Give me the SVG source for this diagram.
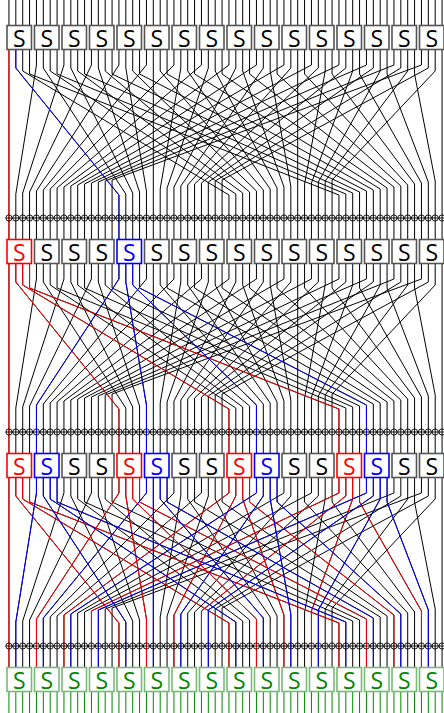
<svg xmlns="http://www.w3.org/2000/svg" xmlns:xlink="http://www.w3.org/1999/xlink" width="444" height="713" viewBox="0 0 444 713">
<style>
.v{fill:none;stroke-width:1;vector-effect:non-scaling-stroke}
.nd rect{fill:#fff;stroke-width:1.6}
.nd text{font-family:"Open Sans","DejaVu Sans",sans-serif;font-size:23px;text-anchor:middle}
.k rect{stroke:#555}.k text{fill:#000}
.r rect{stroke:#f00}.r text{fill:#f00}
.b rect{stroke:#00f}.b text{fill:#00f}
.g rect{stroke:#7b7}.g text{fill:#080}
.xo{fill:none;stroke:#000;stroke-width:0.9}
</style>
<defs>
<g id="stage">
<path class="v" d="M0 49.5V65L0 195V239.5"/><path class="v" d="M1 49.5V68L16 195V239.5"/><path class="v" d="M2 49.5V71L32 195V239.5"/><path class="v" d="M3 49.5V74L48 195V239.5"/>
<path class="v" d="M4 49.5V65L1 194V239.5"/><path class="v" d="M5 49.5V68L17 194V239.5"/><path class="v" d="M6 49.5V71L33 194V239.5"/><path class="v" d="M7 49.5V74L49 194V239.5"/>
<path class="v" d="M8 49.5V65L2 193V239.5"/><path class="v" d="M9 49.5V68L18 193V239.5"/><path class="v" d="M10 49.5V71L34 193V239.5"/><path class="v" d="M11 49.5V74L50 193V239.5"/>
<path class="v" d="M12 49.5V65L3 192V239.5"/><path class="v" d="M13 49.5V68L19 192V239.5"/><path class="v" d="M14 49.5V71L35 192V239.5"/><path class="v" d="M15 49.5V74L51 192V239.5"/>
<path class="v" d="M16 49.5V65L4 191V239.5"/><path class="v" d="M17 49.5V68L20 191V239.5"/><path class="v" d="M18 49.5V71L36 191V239.5"/><path class="v" d="M19 49.5V74L52 191V239.5"/>
<path class="v" d="M20 49.5V65L5 190V239.5"/><path class="v" d="M21 49.5V68L21 190V239.5"/><path class="v" d="M22 49.5V71L37 190V239.5"/><path class="v" d="M23 49.5V74L53 190V239.5"/>
<path class="v" d="M24 49.5V65L6 189V239.5"/><path class="v" d="M25 49.5V68L22 189V239.5"/><path class="v" d="M26 49.5V71L38 189V239.5"/><path class="v" d="M27 49.5V74L54 189V239.5"/>
<path class="v" d="M28 49.5V65L7 188V239.5"/><path class="v" d="M29 49.5V68L23 188V239.5"/><path class="v" d="M30 49.5V71L39 188V239.5"/><path class="v" d="M31 49.5V74L55 188V239.5"/>
<path class="v" d="M32 49.5V65L8 187V239.5"/><path class="v" d="M33 49.5V68L24 187V239.5"/><path class="v" d="M34 49.5V71L40 187V239.5"/><path class="v" d="M35 49.5V74L56 187V239.5"/>
<path class="v" d="M36 49.5V65L9 186V239.5"/><path class="v" d="M37 49.5V68L25 186V239.5"/><path class="v" d="M38 49.5V71L41 186V239.5"/><path class="v" d="M39 49.5V74L57 186V239.5"/>
<path class="v" d="M40 49.5V65L10 185V239.5"/><path class="v" d="M41 49.5V68L26 185V239.5"/><path class="v" d="M42 49.5V71L42 185V239.5"/><path class="v" d="M43 49.5V74L58 185V239.5"/>
<path class="v" d="M44 49.5V65L11 184V239.5"/><path class="v" d="M45 49.5V68L27 184V239.5"/><path class="v" d="M46 49.5V71L43 184V239.5"/><path class="v" d="M47 49.5V74L59 184V239.5"/>
<path class="v" d="M48 49.5V65L12 183V239.5"/><path class="v" d="M49 49.5V68L28 183V239.5"/><path class="v" d="M50 49.5V71L44 183V239.5"/><path class="v" d="M51 49.5V74L60 183V239.5"/>
<path class="v" d="M52 49.5V65L13 182V239.5"/><path class="v" d="M53 49.5V68L29 182V239.5"/><path class="v" d="M54 49.5V71L45 182V239.5"/><path class="v" d="M55 49.5V74L61 182V239.5"/>
<path class="v" d="M56 49.5V65L14 181V239.5"/><path class="v" d="M57 49.5V68L30 181V239.5"/><path class="v" d="M58 49.5V71L46 181V239.5"/><path class="v" d="M59 49.5V74L62 181V239.5"/>
<path class="v" d="M60 49.5V65L15 180V239.5"/><path class="v" d="M61 49.5V68L31 180V239.5"/><path class="v" d="M62 49.5V71L47 180V239.5"/><path class="v" d="M63 49.5V74L63 180V239.5"/>
</g>
<path id="t1" class="v" d="M0 0V25.5"/>
<g id="t2"><use href="#t1"/><use href="#t1" x="1"/></g>
<g id="t4"><use href="#t2"/><use href="#t2" x="2"/></g>
<g id="t8"><use href="#t4"/><use href="#t4" x="4"/></g>
<g id="t16"><use href="#t8"/><use href="#t8" x="8"/></g>
<g id="t32"><use href="#t16"/><use href="#t16" x="16"/></g>
<g id="t64"><use href="#t32"/><use href="#t32" x="32"/></g>
<path id="o1" class="v" d="M0 691.5V713"/>
<g id="o2"><use href="#o1"/><use href="#o1" x="1"/></g>
<g id="o4"><use href="#o2"/><use href="#o2" x="2"/></g>
<g id="o8"><use href="#o4"/><use href="#o4" x="4"/></g>
<g id="o16"><use href="#o8"/><use href="#o8" x="8"/></g>
<g id="o32"><use href="#o16"/><use href="#o16" x="16"/></g>
<g id="o64"><use href="#o32"/><use href="#o32" x="32"/></g>
<circle id="c1" cx="8.94" cy="0" r="3.1"/>
<g id="c2"><use href="#c1"/><use href="#c1" x="6.875"/></g>
<g id="c4"><use href="#c2"/><use href="#c2" x="13.75"/></g>
<g id="c8"><use href="#c4"/><use href="#c4" x="27.5"/></g>
<g id="c16"><use href="#c8"/><use href="#c8" x="55"/></g>
<g id="c32"><use href="#c16"/><use href="#c16" x="110"/></g>
<g id="xr"><use href="#c32"/><use href="#c32" x="220"/><path d="M5.8 0H445.2"/></g>
</defs>

<g id="connectors" transform="translate(8.94 0) scale(6.875 1)">
<g stroke="#000">
<use href="#t64"/>
<use href="#stage"/>
<use href="#stage" y="214"/>
<use href="#stage" y="428"/>
</g>
<g stroke="#080"><use href="#o64"/></g>
<g stroke="#f00">
<path class="v" d="M0 49.5V239.5"/>
<path class="v" d="M0 263.5V453.5"/>
<path class="v" d="M1 263.5V282L16 409V453.5"/>
<path class="v" d="M2 263.5V285L32 409V453.5"/>
<path class="v" d="M3 263.5V288L48 409V453.5"/>
<path class="v" d="M0 477.5V667.5"/>
<path class="v" d="M1 477.5V496L16 623V667.5"/>
<path class="v" d="M2 477.5V499L32 623V667.5"/>
<path class="v" d="M3 477.5V502L48 623V667.5"/>
<path class="v" d="M16 477.5V493L4 619V667.5"/>
<path class="v" d="M17 477.5V496L20 619V667.5"/>
<path class="v" d="M18 477.5V499L36 619V667.5"/>
<path class="v" d="M19 477.5V502L52 619V667.5"/>
<path class="v" d="M32 477.5V493L8 615V667.5"/>
<path class="v" d="M33 477.5V496L24 615V667.5"/>
<path class="v" d="M34 477.5V499L40 615V667.5"/>
<path class="v" d="M35 477.5V502L56 615V667.5"/>
<path class="v" d="M48 477.5V493L12 611V667.5"/>
<path class="v" d="M49 477.5V496L28 611V667.5"/>
<path class="v" d="M50 477.5V499L44 611V667.5"/>
<path class="v" d="M51 477.5V502L60 611V667.5"/>
</g>
<g stroke="#00f">
<path class="v" d="M1 49.5V68L16 195V239.5"/>
<path class="v" d="M16 263.5V279L4 405V453.5"/>
<path class="v" d="M17 263.5V282L20 405V453.5"/>
<path class="v" d="M18 263.5V285L36 405V453.5"/>
<path class="v" d="M19 263.5V288L52 405V453.5"/>
<path class="v" d="M4 477.5V493L1 622V667.5"/>
<path class="v" d="M5 477.5V496L17 622V667.5"/>
<path class="v" d="M6 477.5V499L33 622V667.5"/>
<path class="v" d="M7 477.5V502L49 622V667.5"/>
<path class="v" d="M20 477.5V493L5 618V667.5"/>
<path class="v" d="M21 477.5V496L21 618V667.5"/>
<path class="v" d="M22 477.5V499L37 618V667.5"/>
<path class="v" d="M23 477.5V502L53 618V667.5"/>
<path class="v" d="M36 477.5V493L9 614V667.5"/>
<path class="v" d="M37 477.5V496L25 614V667.5"/>
<path class="v" d="M38 477.5V499L41 614V667.5"/>
<path class="v" d="M39 477.5V502L57 614V667.5"/>
<path class="v" d="M52 477.5V493L13 610V667.5"/>
<path class="v" d="M53 477.5V496L29 610V667.5"/>
<path class="v" d="M54 477.5V499L45 610V667.5"/>
<path class="v" d="M55 477.5V502L61 610V667.5"/>
</g>
</g>

<g id="xor-1" class="xo"><use href="#xr" y="218"/></g>
<g id="xor-2" class="xo"><use href="#xr" y="432"/></g>
<g id="xor-3" class="xo"><use href="#xr" y="646"/></g>

<g id="row1">
<g id="s1-0" class="nd k"><rect x="7" y="25.5" width="24.5" height="24"/><text x="19.25" y="46.5">S</text></g>
<g id="s1-1" class="nd k"><rect x="34.5" y="25.5" width="24.5" height="24"/><text x="46.75" y="46.5">S</text></g>
<g id="s1-2" class="nd k"><rect x="62" y="25.5" width="24.5" height="24"/><text x="74.25" y="46.5">S</text></g>
<g id="s1-3" class="nd k"><rect x="89.5" y="25.5" width="24.5" height="24"/><text x="101.75" y="46.5">S</text></g>
<g id="s1-4" class="nd k"><rect x="117" y="25.5" width="24.5" height="24"/><text x="129.25" y="46.5">S</text></g>
<g id="s1-5" class="nd k"><rect x="144.5" y="25.5" width="24.5" height="24"/><text x="156.75" y="46.5">S</text></g>
<g id="s1-6" class="nd k"><rect x="172" y="25.5" width="24.5" height="24"/><text x="184.25" y="46.5">S</text></g>
<g id="s1-7" class="nd k"><rect x="199.5" y="25.5" width="24.5" height="24"/><text x="211.75" y="46.5">S</text></g>
<g id="s1-8" class="nd k"><rect x="227" y="25.5" width="24.5" height="24"/><text x="239.25" y="46.5">S</text></g>
<g id="s1-9" class="nd k"><rect x="254.5" y="25.5" width="24.5" height="24"/><text x="266.75" y="46.5">S</text></g>
<g id="s1-10" class="nd k"><rect x="282" y="25.5" width="24.5" height="24"/><text x="294.25" y="46.5">S</text></g>
<g id="s1-11" class="nd k"><rect x="309.5" y="25.5" width="24.5" height="24"/><text x="321.75" y="46.5">S</text></g>
<g id="s1-12" class="nd k"><rect x="337" y="25.5" width="24.5" height="24"/><text x="349.25" y="46.5">S</text></g>
<g id="s1-13" class="nd k"><rect x="364.5" y="25.5" width="24.5" height="24"/><text x="376.75" y="46.5">S</text></g>
<g id="s1-14" class="nd k"><rect x="392" y="25.5" width="24.5" height="24"/><text x="404.25" y="46.5">S</text></g>
<g id="s1-15" class="nd k"><rect x="419.5" y="25.5" width="24.5" height="24"/><text x="431.75" y="46.5">S</text></g>
</g>
<g id="row2">
<g id="s2-0" class="nd r"><rect x="7" y="239.5" width="24.5" height="24"/><text x="19.25" y="260.5">S</text></g>
<g id="s2-1" class="nd k"><rect x="34.5" y="239.5" width="24.5" height="24"/><text x="46.75" y="260.5">S</text></g>
<g id="s2-2" class="nd k"><rect x="62" y="239.5" width="24.5" height="24"/><text x="74.25" y="260.5">S</text></g>
<g id="s2-3" class="nd k"><rect x="89.5" y="239.5" width="24.5" height="24"/><text x="101.75" y="260.5">S</text></g>
<g id="s2-4" class="nd b"><rect x="117" y="239.5" width="24.5" height="24"/><text x="129.25" y="260.5">S</text></g>
<g id="s2-5" class="nd k"><rect x="144.5" y="239.5" width="24.5" height="24"/><text x="156.75" y="260.5">S</text></g>
<g id="s2-6" class="nd k"><rect x="172" y="239.5" width="24.5" height="24"/><text x="184.25" y="260.5">S</text></g>
<g id="s2-7" class="nd k"><rect x="199.5" y="239.5" width="24.5" height="24"/><text x="211.75" y="260.5">S</text></g>
<g id="s2-8" class="nd k"><rect x="227" y="239.5" width="24.5" height="24"/><text x="239.25" y="260.5">S</text></g>
<g id="s2-9" class="nd k"><rect x="254.5" y="239.5" width="24.5" height="24"/><text x="266.75" y="260.5">S</text></g>
<g id="s2-10" class="nd k"><rect x="282" y="239.5" width="24.5" height="24"/><text x="294.25" y="260.5">S</text></g>
<g id="s2-11" class="nd k"><rect x="309.5" y="239.5" width="24.5" height="24"/><text x="321.75" y="260.5">S</text></g>
<g id="s2-12" class="nd k"><rect x="337" y="239.5" width="24.5" height="24"/><text x="349.25" y="260.5">S</text></g>
<g id="s2-13" class="nd k"><rect x="364.5" y="239.5" width="24.5" height="24"/><text x="376.75" y="260.5">S</text></g>
<g id="s2-14" class="nd k"><rect x="392" y="239.5" width="24.5" height="24"/><text x="404.25" y="260.5">S</text></g>
<g id="s2-15" class="nd k"><rect x="419.5" y="239.5" width="24.5" height="24"/><text x="431.75" y="260.5">S</text></g>
</g>
<g id="row3">
<g id="s3-0" class="nd r"><rect x="7" y="453.5" width="24.5" height="24"/><text x="19.25" y="474.5">S</text></g>
<g id="s3-1" class="nd b"><rect x="34.5" y="453.5" width="24.5" height="24"/><text x="46.75" y="474.5">S</text></g>
<g id="s3-2" class="nd k"><rect x="62" y="453.5" width="24.5" height="24"/><text x="74.25" y="474.5">S</text></g>
<g id="s3-3" class="nd k"><rect x="89.5" y="453.5" width="24.5" height="24"/><text x="101.75" y="474.5">S</text></g>
<g id="s3-4" class="nd r"><rect x="117" y="453.5" width="24.5" height="24"/><text x="129.25" y="474.5">S</text></g>
<g id="s3-5" class="nd b"><rect x="144.5" y="453.5" width="24.5" height="24"/><text x="156.75" y="474.5">S</text></g>
<g id="s3-6" class="nd k"><rect x="172" y="453.5" width="24.5" height="24"/><text x="184.25" y="474.5">S</text></g>
<g id="s3-7" class="nd k"><rect x="199.5" y="453.5" width="24.5" height="24"/><text x="211.75" y="474.5">S</text></g>
<g id="s3-8" class="nd r"><rect x="227" y="453.5" width="24.5" height="24"/><text x="239.25" y="474.5">S</text></g>
<g id="s3-9" class="nd b"><rect x="254.5" y="453.5" width="24.5" height="24"/><text x="266.75" y="474.5">S</text></g>
<g id="s3-10" class="nd k"><rect x="282" y="453.5" width="24.5" height="24"/><text x="294.25" y="474.5">S</text></g>
<g id="s3-11" class="nd k"><rect x="309.5" y="453.5" width="24.5" height="24"/><text x="321.75" y="474.5">S</text></g>
<g id="s3-12" class="nd r"><rect x="337" y="453.5" width="24.5" height="24"/><text x="349.25" y="474.5">S</text></g>
<g id="s3-13" class="nd b"><rect x="364.5" y="453.5" width="24.5" height="24"/><text x="376.75" y="474.5">S</text></g>
<g id="s3-14" class="nd k"><rect x="392" y="453.5" width="24.5" height="24"/><text x="404.25" y="474.5">S</text></g>
<g id="s3-15" class="nd k"><rect x="419.5" y="453.5" width="24.5" height="24"/><text x="431.75" y="474.5">S</text></g>
</g>
<g id="row4">
<g id="s4-0" class="nd g"><rect x="7" y="667.5" width="24.5" height="24"/><text x="19.25" y="688.5">S</text></g>
<g id="s4-1" class="nd g"><rect x="34.5" y="667.5" width="24.5" height="24"/><text x="46.75" y="688.5">S</text></g>
<g id="s4-2" class="nd g"><rect x="62" y="667.5" width="24.5" height="24"/><text x="74.25" y="688.5">S</text></g>
<g id="s4-3" class="nd g"><rect x="89.5" y="667.5" width="24.5" height="24"/><text x="101.75" y="688.5">S</text></g>
<g id="s4-4" class="nd g"><rect x="117" y="667.5" width="24.5" height="24"/><text x="129.25" y="688.5">S</text></g>
<g id="s4-5" class="nd g"><rect x="144.5" y="667.5" width="24.5" height="24"/><text x="156.75" y="688.5">S</text></g>
<g id="s4-6" class="nd g"><rect x="172" y="667.5" width="24.5" height="24"/><text x="184.25" y="688.5">S</text></g>
<g id="s4-7" class="nd g"><rect x="199.5" y="667.5" width="24.5" height="24"/><text x="211.75" y="688.5">S</text></g>
<g id="s4-8" class="nd g"><rect x="227" y="667.5" width="24.5" height="24"/><text x="239.25" y="688.5">S</text></g>
<g id="s4-9" class="nd g"><rect x="254.5" y="667.5" width="24.5" height="24"/><text x="266.75" y="688.5">S</text></g>
<g id="s4-10" class="nd g"><rect x="282" y="667.5" width="24.5" height="24"/><text x="294.25" y="688.5">S</text></g>
<g id="s4-11" class="nd g"><rect x="309.5" y="667.5" width="24.5" height="24"/><text x="321.75" y="688.5">S</text></g>
<g id="s4-12" class="nd g"><rect x="337" y="667.5" width="24.5" height="24"/><text x="349.25" y="688.5">S</text></g>
<g id="s4-13" class="nd g"><rect x="364.5" y="667.5" width="24.5" height="24"/><text x="376.75" y="688.5">S</text></g>
<g id="s4-14" class="nd g"><rect x="392" y="667.5" width="24.5" height="24"/><text x="404.25" y="688.5">S</text></g>
<g id="s4-15" class="nd g"><rect x="419.5" y="667.5" width="24.5" height="24"/><text x="431.75" y="688.5">S</text></g>
</g>
</svg>
